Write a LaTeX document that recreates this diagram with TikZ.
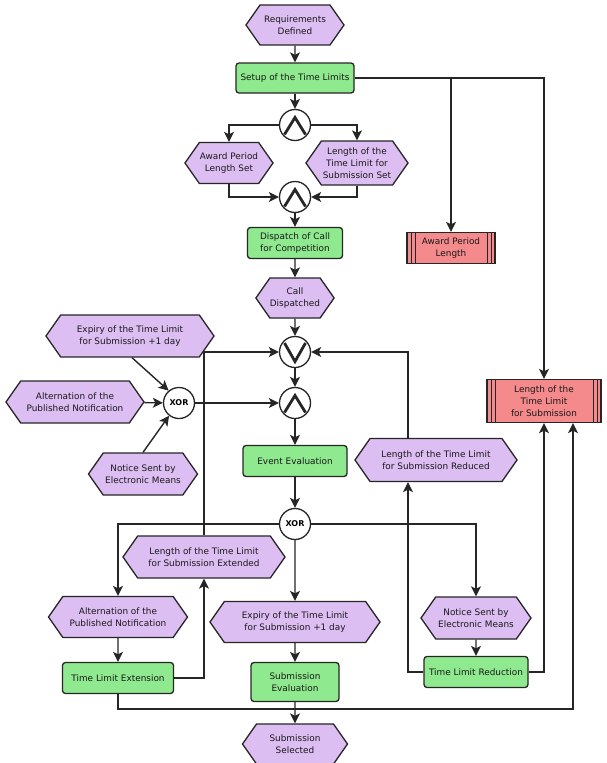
\documentclass[tikz,border=0pt]{standalone}
\usepackage{fontspec}
\setmainfont{DejaVu Sans}
\usetikzlibrary{shapes.symbols,arrows.meta}
\definecolor{evt}{HTML}{DDBEF3}
\definecolor{fun}{HTML}{8FEA8F}
\definecolor{inf}{HTML}{F48A8C}
\tikzset{
 base/.style={draw=black!85, line width=1.3pt, align=center, inner sep=0pt, text=black!90, font=\fontsize{8.9}{12}\selectfont},
 event/.style={base, shape=signal, signal to=east and west, signal pointer angle=110, fill=evt},
 func/.style={base, rectangle, rounded corners=3pt, fill=fun},
 info/.style={base, rectangle, fill=inf, path picture={
   \draw[line width=1pt] ([xshift=4pt]path picture bounding box.north west) -- ([xshift=4pt]path picture bounding box.south west);
   \draw[line width=1pt] ([xshift=8pt]path picture bounding box.north west) -- ([xshift=8pt]path picture bounding box.south west);
   \draw[line width=1pt] ([xshift=-4pt]path picture bounding box.north east) -- ([xshift=-4pt]path picture bounding box.south east);
   \draw[line width=1pt] ([xshift=-8pt]path picture bounding box.north east) -- ([xshift=-8pt]path picture bounding box.south east);}},
 gate/.style={draw=black!85, circle, line width=1.3pt, minimum size=31pt, inner sep=0pt, fill=white},
 andgate/.style={gate, path picture={\draw[line width=2.8pt, line join=miter]
   ([shift={(-10.5pt,-9.5pt)}]path picture bounding box.center) -- ([shift={(0pt,7.5pt)}]path picture bounding box.center) -- ([shift={(10.5pt,-9.5pt)}]path picture bounding box.center);}},
 orgate/.style={gate, path picture={\draw[line width=2.8pt, line join=miter]
   ([shift={(-10.5pt,9pt)}]path picture bounding box.center) -- ([shift={(0pt,-9.5pt)}]path picture bounding box.center) -- ([shift={(10.5pt,9pt)}]path picture bounding box.center);}},
 xorgate/.style={gate, font=\fontsize{8}{10}\selectfont\bfseries},
 conn/.style={line width=1.4pt, draw=black!85, -{Stealth[length=10pt,width=10pt,inset=2.5pt]}},
 plain/.style={line width=1.4pt, draw=black!85}
}
\begin{document}
\begin{tikzpicture}[x=1pt,y=-1pt]
\useasboundingbox[fill=white] (0,0) rectangle (606,763);
% events, functions, gates
\node[event, minimum width=98pt, minimum height=40pt] (req) at (295,25) {Requirements\\Defined};
\node[func, minimum width=118pt, minimum height=30pt] (setup) at (295,78) {Setup of the Time Limits};
\node[andgate] (and1) at (295,125) {};
\node[event, minimum width=88pt, minimum height=41pt] (apls) at (229,163) {Award Period\\Length Set};
\node[event, minimum width=102pt, minimum height=44pt] (ltls) at (357,163) {Length of the\\Time Limit for\\Submission Set};
\node[andgate] (and2) at (295,197) {};
\node[func, minimum width=95pt, minimum height=31pt] (disp) at (295,243) {Dispatch of Call\\for Competition};
\node[event, minimum width=74pt, minimum height=40pt] (calld) at (295,298) {Call\\Dispatched};
\node[orgate] (or) at (295,352) {};
\node[andgate] (and3) at (295,403) {};
\node[func, minimum width=104pt, minimum height=31pt] (eval) at (295,461) {Event Evaluation};
\node[xorgate] (xor2) at (295,524) {XOR};
\node[event, minimum width=162pt, minimum height=42pt] (ext) at (204,557) {Length of the Time Limit\\for Submission Extended};
\node[event, minimum width=139pt, minimum height=41pt] (alt2) at (118,617) {Alternation of the\\Published Notification};
\node[event, minimum width=170pt, minimum height=41pt] (exp2) at (295,622) {Expiry of the Time Limit\\for Submission +1 day};
\node[func, minimum width=111pt, minimum height=31pt] (tle) at (118,678) {Time Limit Extension};
\node[func, minimum width=88pt, minimum height=39pt] (sev) at (295,682) {Submission\\Evaluation};
\node[event, minimum width=105pt, minimum height=40pt] (sel) at (295,744) {Submission\\Selected};
\node[event, minimum width=110pt, minimum height=42pt] (not2) at (476,618) {Notice Sent by\\Electronic Means};
\node[func, minimum width=104pt, minimum height=31pt] (tlr) at (476,672) {Time Limit Reduction};
\node[event, minimum width=162pt, minimum height=43pt] (red) at (436,460) {Length of the Time Limit\\for Submission Reduced};
\node[info, minimum width=88pt, minimum height=31pt] (apl) at (451,248) {Award Period\\Length};
\node[info, minimum width=114pt, minimum height=43pt] (ltl) at (544,401) {Length of the\\Time Limit\\for Submission};
\node[event, minimum width=168pt, minimum height=42pt] (exp1) at (130,336) {Expiry of the Time Limit\\for Submission +1 day};
\node[event, minimum width=138pt, minimum height=42pt] (alt1) at (75,402) {Alternation of the\\Published Notification};
\node[event, minimum width=109pt, minimum height=42pt] (not1) at (143,474) {Notice Sent by\\Electronic Means};
\node[xorgate] (xor1) at (179,403) {XOR};
\coordinate (c1) at (573,709);
% connectors
\draw[conn] (req) -- (setup);
\draw[conn] (setup) -- (and1);
\draw[conn] (setup.east) -| (apl.north);
\draw[conn] (setup.east) -| (ltl.north);
\draw[conn] (and1.west) -| (apls.north);
\draw[conn] (and1.east) -| (ltls.north);
\draw[conn] (apls.south) |- (and2.west);
\draw[conn] (ltls.south) |- (and2.east);
\draw[conn] (and2) -- (disp);
\draw[conn] (disp) -- (calld);
\draw[conn] (calld) -- (or);
\draw[conn] (or) -- (and3);
\draw[conn] (and3) -- (eval);
\draw[conn] (eval) -- (xor2);
\draw[conn] (xor1) -- (and3);
\draw[conn] (alt1) -- (xor1);
\draw[conn] ([xshift=2pt]exp1.south) -- (xor1.130);
\draw[conn] (not1.north) -- (xor1.232);
\draw[conn] (xor2.west) -| (alt2.north);
\draw[conn] (xor2) -- (exp2);
\draw[conn] (xor2.east) -| (not2.north);
\draw[conn] (alt2) -- (tle);
\draw[conn] (exp2) -- (sev);
\draw[conn] (not2) -- (tlr);
\draw[conn] (sev) -- (sel);
\draw[conn] (tle.east) -| (ext.south);
\draw[conn] (ext.north) |- (or.west);
\draw[conn] (tlr.west) -| ([xshift=-28pt]red.south);
\draw[conn] ([xshift=-28pt]red.north) |- (or.east);
\draw[conn] (tlr.east) -| (ltl.south);
\draw[conn] (tle.south) |- (c1) -- (c1 |- ltl.south);
\end{tikzpicture}
\end{document}
